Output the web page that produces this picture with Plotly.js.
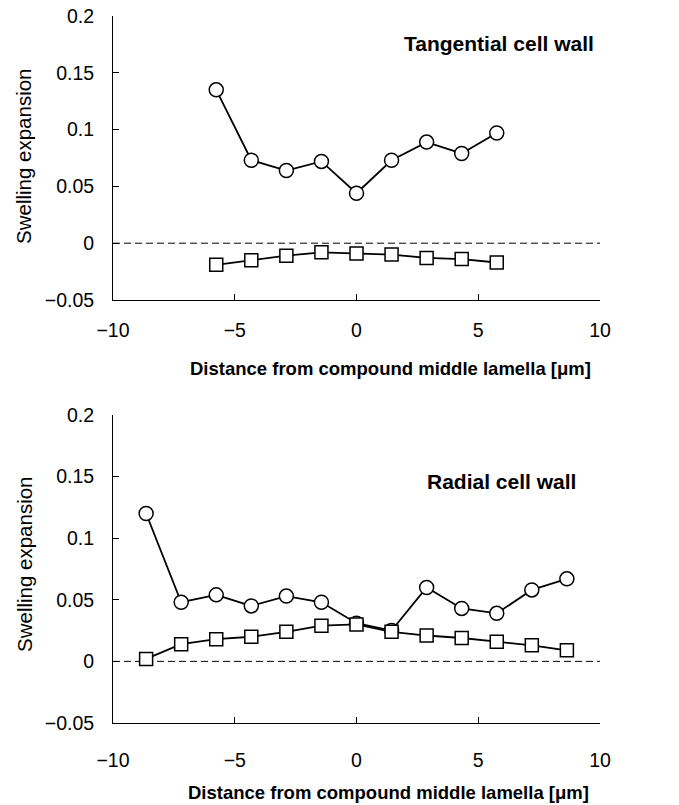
<!DOCTYPE html>
<html>
<head>
<meta charset="utf-8">
<script src="https://cdn.plot.ly/plotly-3.0.1.min.js"></script>
<style>html,body{margin:0;padding:0;background:#fff;}#chart{width:679px;height:805px;}</style>
</head>
<body>
<div id="chart"></div>
<script>
// Tangential cell wall
const xTan = [-5.76, -4.32, -2.88, -1.44, 0, 1.44, 2.88, 4.32, 5.76];
const tanCircle = [0.135, 0.073, 0.064, 0.072, 0.044, 0.073, 0.089, 0.079, 0.097];
const tanSquare = [-0.019, -0.015, -0.011, -0.008, -0.009, -0.010, -0.013, -0.014, -0.017];
// Radial cell wall
const xRad = [-8.64, -7.2, -5.76, -4.32, -2.88, -1.44, 0, 1.44, 2.88, 4.32, 5.76, 7.2, 8.64];
const radCircle = [0.120, 0.048, 0.054, 0.045, 0.053, 0.048, 0.031, 0.025, 0.060, 0.043, 0.039, 0.058, 0.067];
const radSquare = [0.002, 0.014, 0.018, 0.020, 0.024, 0.029, 0.030, 0.024, 0.021, 0.019, 0.016, 0.013, 0.009];

const panelLabels = ["Tangential cell wall", "Radial cell wall"];
const xTitle = "Distance from compound middle lamella [μm]";
const yTitle = "Swelling expansion";
const yTicks = [-0.05, 0, 0.05, 0.1, 0.15, 0.2];
const xTicks = [-10, -5, 0, 5, 10];

const FONT = "Liberation Sans, Arial, sans-serif";

function tr(x, y, sym, xa, ya) {
  return {
    x: x, y: y, xaxis: xa, yaxis: ya, type: 'scatter', mode: 'lines+markers',
    line: {color: '#000', width: 1.8},
    marker: {symbol: sym, size: sym === 'circle' ? 14 : 13, color: '#fff', line: {color: '#000', width: 1.5}},
    showlegend: false, cliponaxis: false
  };
}

const data = [
  tr(xTan, tanCircle, 'circle', 'x', 'y'),
  tr(xTan, tanSquare, 'square', 'x', 'y'),
  tr(xRad, radCircle, 'circle', 'x2', 'y2'),
  tr(xRad, radSquare, 'square', 'x2', 'y2')
];

function xax(anchor, standoff) {
  return {
    anchor: anchor, domain: [0, 1], range: [-10, 10], tickvals: xTicks,
    ticks: 'inside', ticklen: 6, tickwidth: 1, tickcolor: '#000',
    showline: true, linecolor: '#000', linewidth: 1, mirror: false,
    showgrid: false, zeroline: false,
    tickfont: {family: FONT, size: 19.5, color: '#000'},
    ticklabelstandoff: standoff
  };
}
function yax(anchor, dom) {
  return {
    anchor: anchor, domain: dom, range: [-0.05, 0.2], tickvals: yTicks,
    ticks: 'inside', ticklen: 6, tickwidth: 1, tickcolor: '#000',
    showline: true, linecolor: '#000', linewidth: 1, mirror: false,
    showgrid: false, zeroline: false,
    tickfont: {family: FONT, size: 19.5, color: '#000'},
    ticklabelstandoff: 14
  };
}

const topDom = [0.5983, 1];
const botDom = [0, 0.4357];

const layout = {
  width: 679, height: 805,
  margin: {l: 113, r: 79, t: 16, b: 82},
  paper_bgcolor: '#fff', plot_bgcolor: '#fff',
  font: {family: FONT, color: '#000'},
  xaxis: xax('y', 13),
  yaxis: yax('x', topDom),
  xaxis2: xax('y2', 20),
  yaxis2: yax('x2', botDom),
  shapes: [
    {type: 'line', xref: 'x domain', yref: 'y', x0: 0, x1: 1, y0: 0, y1: 0, line: {color: '#000', width: 1, dash: '7px,4px'}, layer: 'below'},
    {type: 'line', xref: 'x2 domain', yref: 'y2', x0: 0, x1: 1, y0: 0, y1: 0, line: {color: '#000', width: 1, dash: '7px,4px'}, layer: 'below'}
  ],
  annotations: [
    {text: panelLabels[0], xref: 'x', yref: 'y', x: 5.85, y: 0.2 - 0.0245, showarrow: false,
     font: {family: FONT, size: 21, color: '#000', weight: 'bold'}, xanchor: 'center', yanchor: 'middle'},
    {text: panelLabels[1], xref: 'x2', yref: 'y2', x: 5.95, y: 0.146, showarrow: false,
     font: {family: FONT, size: 21, color: '#000', weight: 'bold'}, xanchor: 'center', yanchor: 'middle'},
    {text: xTitle, xref: 'paper', yref: 'paper', x: (390 - 113) / 487, y: 1 - (368 - 16) / 707,
     showarrow: false, font: {family: FONT, size: 18.5, color: '#000', weight: 'bold'}, xanchor: 'center', yanchor: 'middle'},
    {text: xTitle, xref: 'paper', yref: 'paper', x: (388 - 113) / 487, y: 1 - (792 - 16) / 707,
     showarrow: false, font: {family: FONT, size: 18.5, color: '#000', weight: 'bold'}, xanchor: 'center', yanchor: 'middle'},
    {text: yTitle, xref: 'paper', yref: 'paper', x: (24 - 113) / 487, y: 1 - (156 - 16) / 707,
     showarrow: false, textangle: -90, font: {family: FONT, size: 20.5, color: '#000'}, xanchor: 'center', yanchor: 'middle'},
    {text: yTitle, xref: 'paper', yref: 'paper', x: (24 - 113) / 487, y: 1 - (564 - 16) / 707,
     showarrow: false, textangle: -90, font: {family: FONT, size: 20.5, color: '#000'}, xanchor: 'center', yanchor: 'middle'}
  ]
};

Plotly.newPlot('chart', data, layout, {displayModeBar: false, staticPlot: true});
</script>
</body>
</html>
